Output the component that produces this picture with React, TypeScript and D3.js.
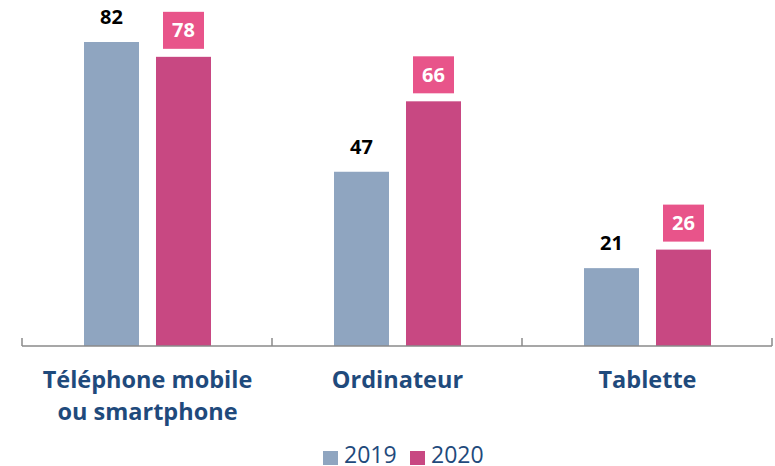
import React from "react";
import * as d3 from "d3";

const categories = ["Téléphone mobile|ou smartphone", "Ordinateur", "Tablette"];
const series = ["2019", "2020"];
const values2019 = [82, 47, 21];
const values2020 = [78, 66, 26];

const W = 775;
const H = 466;
const colors: Record<string, string> = { "2019": "#8FA5C0", "2020": "#C84882" };
const boxColor = "#E8548A";
const navy = "#1F4A7C";
const font = "'Open Sans', sans-serif";

export default function App() {
  const axisY = 346;
  const x0 = d3.scaleBand<number>().domain([0, 1, 2]).range([22, 772]).paddingInner(0).paddingOuter(0);
  const x1 = d3.scaleBand<string>().domain(series).range([62, 189]).paddingInner(0.236).paddingOuter(0);
  const y = d3.scaleLinear().domain([0, 82]).range([axisY, 42]);
  const data = categories.map((c, i) => ({ c, i, v: { "2019": values2019[i], "2020": values2020[i] } as Record<string, number> }));
  const ticks = [22, 272, 522, 772];

  return (
    <svg width={W} height={H} style={{ position: "absolute", left: 0, top: 0 }}>
      {data.map((d) => (
        <g key={d.i} transform={`translate(${x0(d.i)!},0)`}>
          {series.map((s) => {
            const bx = x1(s)!;
            const bw = x1.bandwidth();
            const top = y(d.v[s]);
            const cx = bx + bw / 2;
            return (
              <g key={s}>
                <rect x={bx} y={top} width={bw} height={axisY - top} fill={colors[s]} />
                {s === "2019" ? (
                  <text x={cx} y={top - 18} textAnchor="middle" fontFamily={font} fontWeight={700} fontSize={20} fill="#000">
                    {d.v[s]}
                  </text>
                ) : (
                  <g>
                    <rect x={cx - 20.5} y={top - 45} width={41} height={37} fill={boxColor} />
                    <text x={cx} y={top - 19.5} textAnchor="middle" fontFamily={font} fontWeight={700} fontSize={20} fill="#fff">
                      {d.v[s]}
                    </text>
                  </g>
                )}
              </g>
            );
          })}
          <text textAnchor="middle" fontFamily={font} fontWeight={700} fontSize={23.5} fill={navy}>
            {d.c.split("|").map((line, k) => (
              <tspan key={k} x={125.5} y={388 + k * 32}>
                {line}
              </tspan>
            ))}
          </text>
        </g>
      ))}
      <line x1={22} x2={772} y1={axisY} y2={axisY} stroke="#8a8a8a" strokeWidth={1.5} />
      {ticks.map((t) => (
        <line key={t} x1={t} x2={t} y1={axisY} y2={axisY - 8} stroke="#8a8a8a" strokeWidth={1.5} />
      ))}
      <g fontFamily={font} fontSize={23} fill={navy}>
        <rect x={323} y={451} width={15} height={14} fill={colors["2019"]} />
        <text x={344} y={463}>2019</text>
        <rect x={410} y={451} width={15} height={14} fill={colors["2020"]} />
        <text x={431} y={463}>2020</text>
      </g>
    </svg>
  );
}
